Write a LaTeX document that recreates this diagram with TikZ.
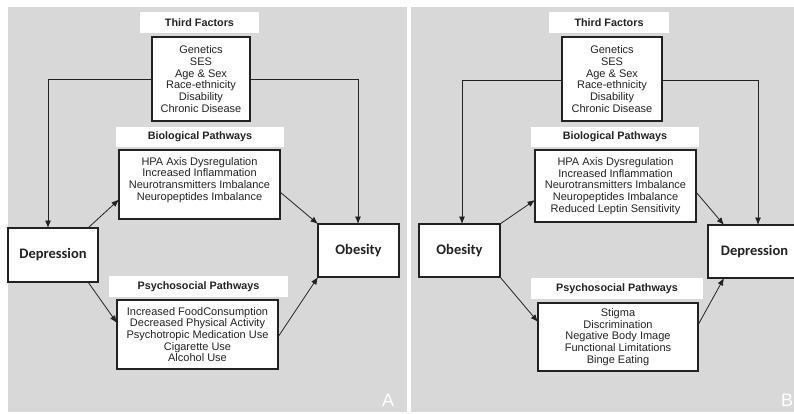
\documentclass[tikz,border=0pt]{standalone}
\usepackage{fontspec}
\setmainfont{Liberation Sans}
\newfontfamily\calib{Carlito}
\usetikzlibrary{arrows.meta,calc}
\definecolor{panelgray}{RGB}{216,216,216}
\definecolor{ink}{RGB}{34,34,34}
\begin{document}
\begin{tikzpicture}[x=1pt,y=-1pt,
  box/.style={draw=ink,line width=1.2pt,fill=white,inner sep=0pt,outer sep=0pt,anchor=north west,align=center,text=ink,font=\fontsize{11}{11.7}\selectfont},
  lbl/.style={fill=white,inner sep=0pt,outer sep=0pt,anchor=north west,align=center,text=ink,font=\bfseries\fontsize{10.8}{12}\selectfont},
  mainbox/.style={box,font=\calib\bfseries\fontsize{14.5}{16}\selectfont},
  conn/.style={draw=ink,line width=0.8pt},
  arr/.style={conn,-{Latex[length=7.5pt,width=6pt]}},
  corner/.style={text=white,inner sep=0pt,font=\fontsize{18}{18}\selectfont}
]
\useasboundingbox (0,0) rectangle (794,414);
\fill[white] (0,0) rectangle (794,414);
\begin{scope}
\clip (0,0) rectangle (794,414);
\fill[panelgray] (8,7) rectangle (407,412);
\fill[panelgray] (411,7) rectangle (794,412);

% ---------- Panel A ----------
\node[lbl,minimum width=119pt,minimum height=21pt] (tfAl) at (140,12) {Third Factors};
\node[box,minimum width=98pt,minimum height=84pt] (tfA) at (152,37)
  {Genetics\\SES\\Age \& Sex\\Race-ethnicity\\Disability\\Chronic Disease};
\node[lbl,minimum width=168pt,minimum height=20pt] (bioAl) at (116,127) {Biological Pathways};
\node[box,minimum width=161pt,minimum height=69pt] (bioA) at (119,150)
  {HPA Axis Dysregulation\\Increased Inflammation\\Neurotransmitters Imbalance\\Neuropeptides Imbalance\\\mbox{}};
\node[mainbox,minimum width=90pt,minimum height=54pt] (depA) at (8,228) {Depression};
\node[mainbox,minimum width=81pt,minimum height=53pt] (obA) at (318,224) {Obesity};
\node[lbl,minimum width=179pt,minimum height=21pt] (psyAl) at (109,276) {Psychosocial Pathways};
\node[box,minimum width=161pt,minimum height=69pt] (psyA) at (117,300)
  {Increased FoodConsumption\\Decreased Physical Activity\\Psychotropic Medication Use\\Cigarette Use\\Alcohol Use};
\node[corner] (labA) at (388,400) {A};

\coordinate (kA1) at (48,79);
\coordinate (kA2) at (358,79);
\draw[arr] (tfA.west) -- (kA1) -- (depA.north -| kA1);
\draw[arr] (tfA.east) -- (kA2) -- (obA.north -| kA2);
\draw[arr] ([xshift=-10pt]depA.north east) -- ([yshift=-15pt]bioA.west);
\draw[arr] ([yshift=-7.5pt]bioA.east) -- (obA.north west);
\draw[arr] ([xshift=-10pt]depA.south east) -- ([yshift=11.5pt]psyA.west);
\draw[arr] ([yshift=-2.5pt]psyA.east) -- (obA.south west);

% ---------- Panel B ----------
\node[lbl,minimum width=120pt,minimum height=21pt] (tfBl) at (549,12) {Third Factors};
\node[box,minimum width=100pt,minimum height=84pt] (tfB) at (562,37)
  {Genetics\\SES\\Age \& Sex\\Race-ethnicity\\Disability\\Chronic Disease};
\node[lbl,minimum width=168pt,minimum height=20pt] (bioBl) at (531,127) {Biological Pathways};
\node[box,minimum width=161pt,minimum height=72pt] (bioB) at (535,150)
  {HPA Axis Dysregulation\\Increased Inflammation\\Neurotransmitters Imbalance\\Neuropeptides Imbalance\\Reduced Leptin Sensitivity};
\node[mainbox,minimum width=81pt,minimum height=53pt] (obB) at (419,224) {Obesity};
\node[mainbox,minimum width=93pt,minimum height=53pt] (depB) at (708,225) {Depression};
\node[lbl,minimum width=172pt,minimum height=21pt] (psyBl) at (531,278) {Psychosocial Pathways};
\node[box,minimum width=160pt,minimum height=68pt] (psyB) at (538,303)
  {Stigma\\Discrimination\\Negative Body Image\\Functional Limitations\\Binge Eating};
\node[corner] (labB) at (787,400) {B};

\coordinate (kB1) at (462,80);
\coordinate (kB2) at (758,80);
\draw[arr] (tfB.west |- kB1) -- (kB1) -- (obB.north -| kB1);
\draw[arr] (tfB.east |- kB2) -- (kB2) -- (depB.north -| kB2);
\draw[arr] (obB.north east) -- ([yshift=-14pt]bioB.west);
\draw[arr] ([yshift=-6pt]bioB.east) -- ([xshift=16pt]depB.north west);
\draw[arr] (obB.south east) -- ([yshift=15pt]psyB.west);
\draw[arr] ([yshift=12pt]psyB.east) -- ([xshift=16pt]depB.south west);
\end{scope}
\end{tikzpicture}
\end{document}
